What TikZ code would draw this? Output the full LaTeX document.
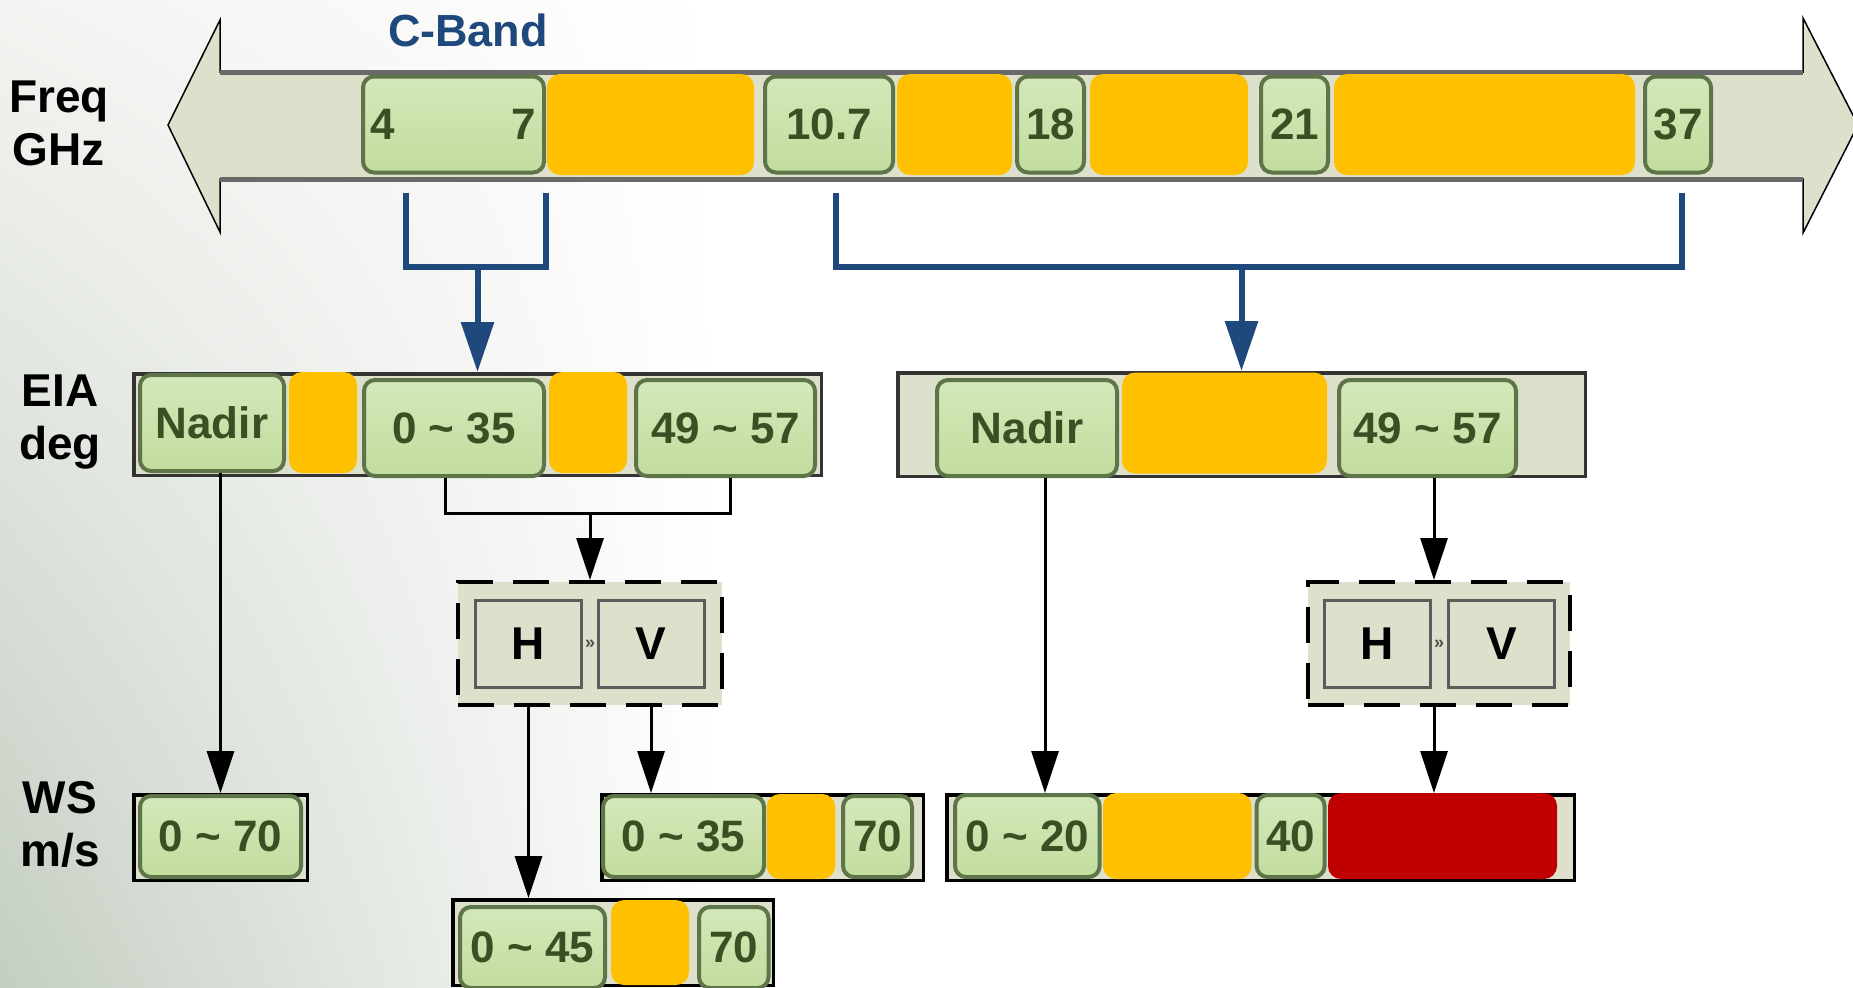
\documentclass[tikz,border=0pt]{standalone}
\usepackage{fontspec}
\setmainfont{Liberation Sans}
\usepackage{tikz}
\usetikzlibrary{positioning}
\usetikzlibrary{arrows.meta}
\usetikzlibrary{shadings}
\definecolor{gfill}{RGB}{194,221,158}
\definecolor{glight}{RGB}{212,232,186}
\definecolor{gborder}{RGB}{94,117,74}
\definecolor{gtext}{RGB}{56,80,36}
\definecolor{ocolor}{RGB}{255,192,0}
\definecolor{rcolor}{RGB}{192,0,0}
\definecolor{pfill}{RGB}{221,225,204}
\definecolor{pedge}{RGB}{51,51,51}
\definecolor{bandcolor}{RGB}{31,73,125}
\definecolor{shaftcolor}{RGB}{105,105,105}
\definecolor{bgtop}{RGB}{243,244,241}
\definecolor{bgbot}{RGB}{196,206,194}
\newcommand{\numfont}{\bfseries\fontsize{44}{48}\selectfont}
\newcommand{\lblfont}{\bfseries\fontsize{46}{53}\selectfont}
\newcommand{\hvfont}{\bfseries\fontsize{46}{50}\selectfont}

\begin{document}
\begin{tikzpicture}[x=1pt, y=-1pt,
    gbox/.style={rectangle, rounded corners=11pt, draw=gborder, line width=4pt, top color=glight, bottom color=gfill, text=gtext, font=\numfont, inner sep=0pt, minimum height=96pt},
    obox/.style={rectangle, rounded corners=13pt, fill=ocolor, inner sep=0pt, minimum height=101pt},
    rbox/.style={obox, fill=rcolor, minimum height=86pt},
    panel/.style={rectangle, draw=pedge, fill=pfill, line width=3.5pt, inner sep=0pt},
    hvpanel/.style={panel, draw=black, line width=4pt, dash pattern=on 36pt off 20pt},
    pbox/.style={rectangle, draw=pedge!80, fill=pfill, line width=3pt, minimum width=106pt, minimum height=87pt, font=\hvfont},
    arrow/.style={-{Triangle[length=42pt, width=27pt]}, line width=3pt},
    bline/.style={draw=bandcolor, line width=6pt},
    barrow/.style={bline, -{Triangle[length=50pt, width=32pt]}},
    lbl/.style={font=\lblfont, align=center},
    joint/.style={font=\bfseries\fontsize{18}{18}\selectfont, text=black!70, inner sep=0pt}
]

\useasboundingbox (0,0) rectangle (1853,988);
\fill[white] (0,0) rectangle (1853,988);
\shade[upper left=bgtop, lower left=bgbot, upper right=white, lower right=white] (0,0) rectangle (720,988);

% frequency band arrow
\filldraw[fill=pfill, draw=black, line width=1.5pt] (168,125) -- (220,20) -- (220,72) -- (1803,72) -- (1803,18) -- (1858,125) -- (1803,233) -- (1803,179) -- (220,179) -- (220,232) -- cycle;
\draw[shaftcolor, line width=5pt] (220,72) -- (1803,72) (220,179) -- (1803,179);

\node[gbox, minimum width=181pt] (c47) at (453.5,124.5) {4\hspace{117pt}7};
\node[obox, minimum width=207pt] (o1) at (650.5,124.5) {};
\node[gbox, minimum width=128pt] (f107) at (829,124.5) {10.7};
\node[obox, minimum width=115pt] (o2) at (954.5,124.5) {};
\node[gbox, minimum width=67pt] (f18) at (1050.5,124.5) {18};
\node[obox, minimum width=158pt] (o3) at (1169,124.5) {};
\node[gbox, minimum width=67pt] (f21) at (1294.5,124.5) {21};
\node[obox, minimum width=301pt] (o4) at (1484.5,124.5) {};
\node[gbox, minimum width=66pt] (f37) at (1678,124.5) {37};

\node[font=\bfseries\fontsize{45}{50}\selectfont, text=bandcolor, anchor=base] (cband) at (468,46) {C-Band};

% row labels
\node[lbl, anchor=base] (freq) at (59,165) {Freq\\GHz};
\node[lbl, anchor=base] (eia) at (60,459) {EIA\\deg};
\node[lbl, anchor=base] (ws) at (60,866) {WS\\m/s};

% incidence angle
\node[panel, minimum width=687.5pt, minimum height=101.5pt] (eiaL) at (477.5,424.5) {};
\node[gbox, minimum width=144pt] (nadirL) at (212,423) {Nadir};
\node[obox, minimum width=68pt] (oe1) at (323,422.5) {};
\node[gbox, minimum width=180pt] (e035) at (454,428) {0 \textasciitilde{} 35};
\node[obox, minimum width=78pt] (oe2) at (588,422.5) {};
\node[gbox, minimum width=179pt] (e4957L) at (725.5,428) {49 \textasciitilde{} 57};

\node[panel, minimum width=687.5pt, minimum height=103.5pt] (eiaR) at (1241.5,424.5) {};
\node[gbox, minimum width=180pt] (nadirR) at (1027,428) {Nadir};
\node[obox, minimum width=205pt] (oe3) at (1224.5,423) {};
\node[gbox, minimum width=177pt] (e4957R) at (1427.5,428) {49 \textasciitilde{} 57};

% polarisation
\node[hvpanel, minimum width=264pt, minimum height=123pt] (hvL) at (590,643.5) {};
\node[pbox] (hL) at (528.5,644) {H};
\node[pbox] (vL) at (651,644) {V};
\node[joint, right=2pt of hL] (jtL) {»};

\node[hvpanel, minimum width=262pt, minimum height=123pt] (hvR) at (1439,643.5) {};
\node[pbox] (hR) at (1377.5,644) {H};
\node[pbox] (vR) at (1501.5,644) {V};
\node[joint, right=2pt of hR] (jtR) {»};

% wind speed
\node[panel, draw=black, minimum width=173.5pt, minimum height=85.5pt] (wsA) at (220.5,837.5) {};
\node[gbox, minimum width=161pt, minimum height=81pt] (w070) at (220.5,836.5) {0 \textasciitilde{} 70};

\node[panel, draw=black, minimum width=321.5pt, minimum height=85.5pt] (wsB) at (762.5,837.5) {};
\node[gbox, minimum width=161pt, minimum height=81pt] (w035) at (683.5,836.5) {0 \textasciitilde{} 35};
\node[obox, minimum width=68.5pt, minimum height=85pt] (ow1) at (801,836.5) {};
\node[gbox, minimum width=69pt, minimum height=81pt] (w70a) at (877.5,836.5) {70};

\node[panel, draw=black, minimum width=320.5pt, minimum height=85.5pt] (wsC) at (613,942.5) {};
\node[gbox, minimum width=145pt, minimum height=81pt] (w045) at (532.5,947.5) {0 \textasciitilde{} 45};
\node[obox, minimum width=78pt, minimum height=85pt] (ow2) at (650,942.5) {};
\node[gbox, minimum width=69.5pt, minimum height=81pt] (w70b) at (733.75,947.5) {70};

\node[panel, draw=black, minimum width=627.5pt, minimum height=85.5pt] (wsD) at (1260.5,837.5) {};
\node[gbox, minimum width=144.6pt, minimum height=82pt] (w020) at (1027.3,836) {0 \textasciitilde{} 20};
\node[obox, minimum width=148.6pt, minimum height=86pt] (ow3) at (1177.3,836) {};
\node[gbox, minimum width=68pt, minimum height=82pt] (w40) at (1290.6,836) {40};
\node[rbox, minimum width=229pt] (red) at (1442.5,836) {};

% brackets
\coordinate (bL1) at (405.6,193);
\coordinate (bL2) at (546,193);
\coordinate (bLm) at (477.5,267);
\draw[bline] (bL1) |- (bLm) -| (bL2);
\draw[barrow] (bLm) -- (eiaL.north);

\coordinate (bR1) at (836,193);
\coordinate (bR2) at (1681.6,193);
\coordinate (bRm) at (1241.5,267);
\draw[bline] (bR1) |- (bRm) -| (bR2);
\draw[barrow] (bRm) -- (eiaR.north);

\coordinate (jL) at (590,513);
\draw[line width=3pt] ([xshift=-9pt]e035.south) |- (jL) -| ([xshift=4.5pt]e4957L.south);
\draw[arrow] (jL) -- (hvL.north);

\draw[arrow] (wsA.north |- nadirL.south) -- (wsA.north);
\draw[arrow] (hL |- hvL.south) -- (hL |- wsC.north);
\draw[arrow] (vL |- hvL.south) -- (vL |- wsB.north);
\draw[arrow] ([xshift=18pt]nadirR.south) -- ([xshift=18pt]nadirR.south |- wsD.north);
\draw[arrow] ([xshift=-5pt]hvR.north |- e4957R.south) -- ([xshift=-5pt]hvR.north);
\draw[arrow] ([xshift=-5pt]hvR.south) -- ([xshift=-5pt]hvR.south |- wsD.north);

\end{tikzpicture}
\end{document}
